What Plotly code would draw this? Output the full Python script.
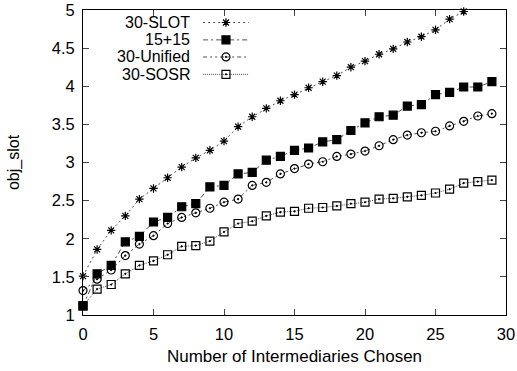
import plotly.graph_objects as go

x_vals = list(range(30))

slot = [1.51, 1.86, 2.11, 2.30, 2.52, 2.66, 2.80, 2.94, 3.06, 3.16,
        3.28, 3.47, 3.60, 3.71, 3.81, 3.89, 3.98, 4.06, 4.14, 4.25,
        4.33, 4.42, 4.49, 4.58, 4.65, 4.74, 4.88, 4.98]
plus15 = [1.12, 1.54, 1.65, 1.96, 2.03, 2.22, 2.28, 2.42, 2.46, 2.68,
          2.70, 2.85, 2.87, 3.03, 3.08, 3.16, 3.19, 3.27, 3.30, 3.42,
          3.52, 3.60, 3.62, 3.74, 3.76, 3.89, 3.92, 3.99, 3.99, 4.06]
unified = [1.32, 1.47, 1.59, 1.78, 1.93, 2.04, 2.20, 2.28, 2.34, 2.40,
           2.48, 2.52, 2.70, 2.74, 2.85, 2.92, 2.98, 3.01, 3.08, 3.11,
           3.15, 3.22, 3.30, 3.36, 3.39, 3.41, 3.48, 3.54, 3.61, 3.64]
sosr = [1.12, 1.34, 1.40, 1.54, 1.65, 1.71, 1.79, 1.90, 1.91, 1.97,
        2.09, 2.20, 2.23, 2.30, 2.35, 2.36, 2.40, 2.41, 2.43, 2.46,
        2.48, 2.52, 2.53, 2.55, 2.57, 2.60, 2.65, 2.73, 2.75, 2.77]

names = ["30-SLOT", "15+15", "30-Unified", "30-SOSR"]
series = [slot, plus15, unified, sosr]
symbols = ["asterisk-open", "square", "circle-open-dot", "square-open-dot"]
sizes = [7, 8, 8, 8]
dashes = ["2px,3px", "5px,3px,2px,3px", "4px,3px,2px,3px,2px,3px", "1px,1px"]

x_ticks = [0, 5, 10, 15, 20, 25, 30]
y_ticks = [1, 1.5, 2, 2.5, 3, 3.5, 4, 4.5, 5]

FONT = "Liberation Sans, Arial, sans-serif"
LINE_COLOR = "#222222"

fig = go.Figure()
for name, ys, sym, sz, dash in zip(names, series, symbols, sizes, dashes):
    fig.add_trace(go.Scatter(
        x=x_vals[:len(ys)], y=ys, name=name, mode="lines+markers",
        line=dict(color=LINE_COLOR, width=0.8, dash=dash),
        marker=dict(symbol=sym, size=sz, color="#000000",
                    line=dict(color="#000000", width=1.2)),
        cliponaxis=False, showlegend=False))

# custom gnuplot-style legend (text right-aligned, sample on the right)
leg_rows = [0.959, 0.902, 0.846, 0.789]
for name, sym, sz, dash, yy in zip(names, symbols, sizes, dashes, leg_rows):
    fig.add_annotation(xref="paper", yref="paper", x=0.258, y=yy,
                       text=name, showarrow=False, xanchor="right",
                       yanchor="middle",
                       font=dict(family=FONT, size=16, color="#000"))
    fig.add_trace(go.Scatter(
        x=[0.284, 0.338, 0.392], y=[yy, yy, yy], xaxis="x2", yaxis="y2",
        mode="lines", line=dict(color=LINE_COLOR, width=0.8, dash=dash),
        showlegend=False, hoverinfo="skip", cliponaxis=False))
    fig.add_trace(go.Scatter(
        x=[0.338], y=[yy], xaxis="x2", yaxis="y2", mode="markers",
        marker=dict(symbol=sym, size=sz, color="#000",
                    line=dict(color="#000", width=1.2)),
        showlegend=False, hoverinfo="skip", cliponaxis=False))

fig.update_layout(
    width=517, height=371,
    margin=dict(l=83, r=11, t=10, b=56, autoexpand=False),
    paper_bgcolor="white", plot_bgcolor="white",
    font=dict(family=FONT, size=16, color="#000"),
    xaxis=dict(range=[0, 30], tickvals=x_ticks, ticks="inside", ticklen=6,
               showline=True, linecolor="#000", linewidth=1, mirror="ticks",
               showgrid=False, zeroline=False, ticklabelstandoff=4,
               automargin=False, tickfont=dict(size=16.5),
               title=dict(text="Number of Intermediaries Chosen",
                          font=dict(size=17), standoff=8)),
    yaxis=dict(range=[1, 5], tickvals=y_ticks, ticks="inside", ticklen=6,
               showline=True, linecolor="#000", linewidth=1, mirror="ticks",
               showgrid=False, zeroline=False, ticklabelstandoff=4,
               automargin=False, tickfont=dict(size=16.5),
               title=dict(text="obj_slot", font=dict(size=16), standoff=28)),
    xaxis2=dict(range=[0, 1], overlaying="x", visible=False),
    yaxis2=dict(range=[0, 1], overlaying="y", visible=False),
)

fig.write_html("out.html", config={"displayModeBar": False})
with open("out.html", "r", encoding="utf-8") as f:
    html = f.read()
html = html.replace("<body>", '<body style="margin:0;padding:0;overflow:hidden">', 1)
with open("out.html", "w", encoding="utf-8") as f:
    f.write(html)
